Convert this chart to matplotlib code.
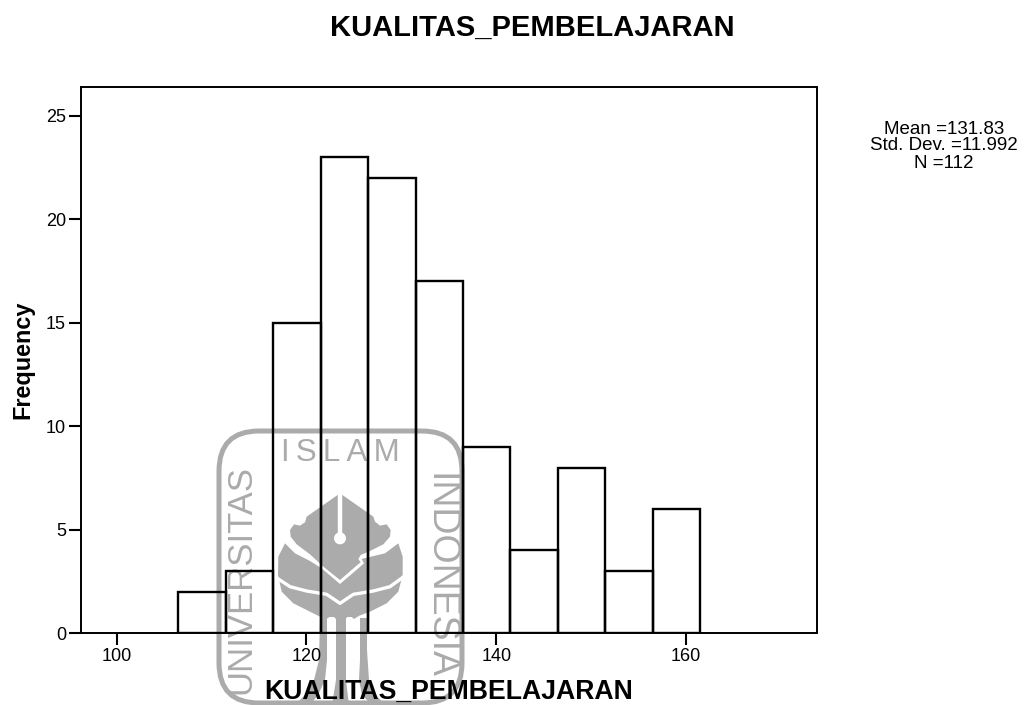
import numpy as np
import matplotlib
matplotlib.use("Agg")
import matplotlib.pyplot as plt
from matplotlib.patches import Polygon, Circle, FancyBboxPatch

plt.rcParams['font.family'] = ['Liberation Sans', 'DejaVu Sans']

# ---- data ----
bin_starts = [106.5, 111.5, 116.5, 121.5, 126.5, 131.5, 136.5, 141.5, 146.5, 151.5, 156.5]
frequencies = [2, 3, 15, 23, 22, 17, 9, 4, 8, 3, 6]
bin_width = 5
x_ticks = [100, 120, 140, 160]
y_ticks = [0, 5, 10, 15, 20, 25]
title = "KUALITAS_PEMBELAJARAN"
x_label = "KUALITAS_PEMBELAJARAN"
y_label = "Frequency"
stats_lines = ["Mean =131.83", "Std. Dev. =11.992", "N =112"]

W, H = 1025, 705
fig = plt.figure(figsize=(W / 100, H / 100), dpi=100, facecolor='white')

# ---- watermark overlay (figure pixel space) ----
GREY = '#ababab'
bg = fig.add_axes([0, 0, 1, 1], zorder=0)
bg.set_xlim(0, W)
bg.set_ylim(H, 0)
bg.axis('off')


def z(pts):
    return [(270 + a / 3, 485 + b / 3) for a, b in pts]


bg.add_patch(FancyBboxPatch((219 + 40, 431 + 40), 243 - 80, 272 - 80,
                            boxstyle="round,pad=40", fc='none', ec=GREY, lw=3.6))
head = [(210, 25), (310, 95), (315, 110), (330, 122), (350, 118), (362, 135), (360, 155),
        (340, 178), (300, 198), (272, 210), (265, 222), (272, 232), (262, 240), (210, 285),
        (160, 245), (120, 208), (80, 178), (62, 155), (60, 135), (72, 118), (90, 122),
        (105, 112), (110, 95)]
bg.add_patch(Polygon(z(head), fc=GREY, ec='none'))
body = [(45, 175), (75, 205), (120, 228), (155, 250), (210, 297), (265, 250), (282, 235),
        (275, 222), (290, 218), (345, 205), (385, 175), (398, 215), (398, 270), (385, 320),
        (350, 355), (300, 380), (268, 392), (255, 400), (252, 402), (245, 396), (232, 396),
        (226, 402), (198, 402), (192, 396), (178, 396), (170, 402), (160, 400), (120, 380),
        (70, 355), (35, 320), (24, 270), (25, 215)]
bg.add_patch(Polygon(z(body), fc=GREY, ec='none'))
bg.plot(*zip(*z([(211, 25), (211, 150)])), color='white', lw=3.2, solid_capstyle='butt')
bg.add_patch(Circle((270 + 210 / 3, 485 + 160 / 3), 6, fc='white', ec='none'))
bg.plot(*zip(*z([(22, 280), (60, 305), (110, 318), (170, 328), (210, 355), (250, 328),
                 (310, 318), (360, 305), (400, 276)])), color='white', lw=2.4)

# trunks
bg.add_patch(Polygon([(320, 618), (327, 618), (327, 660), (325, 680), (318, 695), (310, 705),
                      (295, 705), (305, 695), (314, 680), (319, 660)], fc=GREY, ec='none'))
bg.add_patch(Polygon([(360, 618), (367, 618), (367, 650), (369, 680), (376, 695), (385, 705),
                      (372, 705), (362, 695), (359, 680), (360, 660)], fc=GREY, ec='none'))
bg.add_patch(Polygon([(336, 618), (346, 618), (346, 680), (349, 705), (332, 705), (336, 680)],
                     fc=GREY, ec='none'))

bg.text(340, 453, "I\u2009S\u2009L\u2009A\u2009M", color=GREY, fontsize=22.5,
        family=['Liberation Sans', 'DejaVu Sans'], ha='center', va='center')
bg.text(240.5, 580, "UNIVERSITAS", color=GREY, fontsize=25, rotation=90, ha='center', va='center')
bg.text(439.5, 576, "INDONESIA", color=GREY, fontsize=27, rotation=-90, ha='center', va='center')

# ---- main chart ----
L, R, T, B = 80.5, 817, 87, 633
ax = fig.add_axes([L / W, 1 - B / H, (R - L) / W, (B - T) / H], zorder=1)
ax.patch.set_visible(False)
ax.bar(bin_starts, frequencies, width=bin_width, align='edge', fill=False,
       edgecolor='black', linewidth=1.7)
ax.set_xlim(96.2, 173.8)
ax.set_ylim(0, 26.4)
ax.set_xticks(x_ticks)
ax.set_yticks(y_ticks)
ax.tick_params(axis='both', length=8.5, width=1.5, labelsize=13, pad=2)
ax.tick_params(axis='x', pad=2.5)
for s in ax.spines.values():
    s.set_linewidth(1.4)
ax.set_xlabel(x_label, fontsize=19.2, fontweight='bold', va='center')
ax.xaxis.set_label_coords(0.5, -0.108)
ax.set_ylabel(y_label, fontsize=16.8, fontweight='bold', va='center')
ax.yaxis.set_label_coords(-0.078, 0.5)

fig.text(532.5 / W, 1 - 28 / H, title, fontsize=21, fontweight='bold', ha='center', va='center')
for txt, y in zip(stats_lines, [130, 146, 163]):
    fig.text(944 / W, 1 - y / H, txt, fontsize=13.5, ha='center', va='center')

fig.savefig("out.png", dpi=100)
